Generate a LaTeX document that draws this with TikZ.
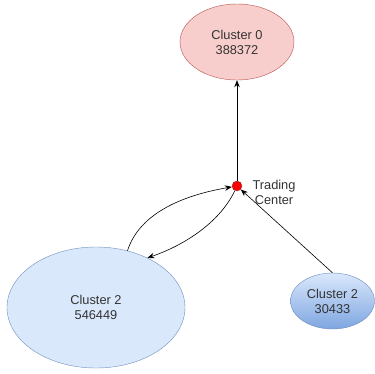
\documentclass[tikz,border=0pt]{standalone}
\usepackage{fontspec}
\setmainfont{Liberation Sans}
\usetikzlibrary{shapes.geometric,arrows.meta}
\definecolor{redfill}{HTML}{F8CECC}
\definecolor{redline}{HTML}{B85450}
\definecolor{bluefill}{HTML}{DAE8FC}
\definecolor{blueline}{HTML}{6C8EBF}
\definecolor{bluedark}{HTML}{7EA6E0}
\definecolor{edge}{HTML}{333333}
\tikzset{
  x=1pt,y=1pt,
  txt/.style={align=center,font=\fontsize{12.8}{15}\selectfont,text=edge},
  cluster/.style={ellipse,draw,inner sep=0pt,txt},
  conn/.style={draw=black,line width=0.6pt,-{Stealth[length=7pt,width=5.5pt]}},
}
\begin{document}
\begin{tikzpicture}
\useasboundingbox (0,0) rectangle (375,-373);
\node[cluster,fill=redfill,draw=redline,minimum width=114,minimum height=76] (c0) at (237,-42) {Cluster 0\\388372};
\node[circle,fill=red,draw=redline!70!black,minimum size=10,inner sep=0pt] (tc) at (237,-186) {};
\node[txt] (tclabel) at (274,-192) {Trading\\Center};
\node[cluster,fill=bluefill,draw=blueline,minimum width=178,minimum height=121] (big) at (96,-307.5) {Cluster 2\\546449};
\node[cluster,top color=bluefill,bottom color=bluedark,draw=blueline,minimum width=84,minimum height=56] (small) at (332.5,-301) {Cluster 2\\30433};
\draw[conn] (tc) -- (c0);
\draw[conn] (small.north) -- (tc);
\draw[conn] (big.61) .. controls (140,-212) and (185,-195) .. (tc);
\draw[conn] (tc) .. controls (220,-222) and (185,-245) .. (big.44);
\end{tikzpicture}
\end{document}
